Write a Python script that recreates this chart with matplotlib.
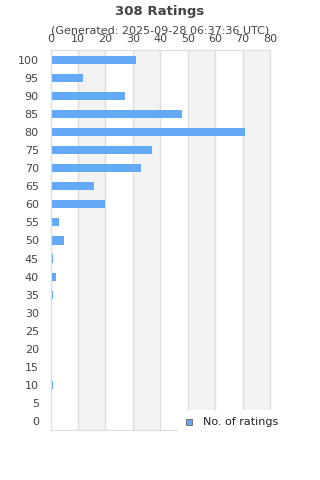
import matplotlib

matplotlib.use("Agg")
import matplotlib.pyplot as plt
from matplotlib.patches import Rectangle

ratings = [100, 95, 90, 85, 80, 75, 70, 65, 60, 55, 50, 45, 40, 35, 30, 25, 20, 15, 10, 5, 0]
counts = [31, 12, 27, 48, 71, 37, 33, 16, 20, 3, 5, 1, 2, 1, 0, 0, 0, 0, 1, 0, 0]
x_ticks = [0, 10, 20, 30, 40, 50, 60, 70, 80]

title = "308 Ratings"
subtitle = "(Generated: 2025-09-28 06:37:36 UTC)"
series_name = "No. of ratings"

bar_color = "#63a9f5"
text_color = "#444444"
grid_color = "#dddddd"

fig = plt.figure(figsize=(3.2, 4.8), dpi=100)
ax = fig.add_axes([0.158, 0.104, 0.686, 0.792])

# bandas alternadas de fundo
for i, x0 in enumerate(x_ticks[:-1]):
    if i % 2 == 1:
        ax.axvspan(x0, x_ticks[i + 1], color="#f3f3f3", zorder=0, lw=0)
for x in x_ticks:
    ax.axvline(x, color=grid_color, lw=1, zorder=1)

pos = list(range(len(ratings)))
ax.barh(pos, counts, height=0.45, color=bar_color, zorder=2)

ax.set_xlim(0, 80)
ax.set_ylim(len(ratings) - 0.5, -0.55)
ax.set_yticks(pos)
ax.set_yticklabels([str(r) for r in ratings])
ax.set_xticks(x_ticks)
ax.xaxis.tick_top()
ax.tick_params(axis="both", length=0, labelsize=8, colors=text_color)
ax.tick_params(axis="x", pad=4.5)
ax.tick_params(axis="y", pad=8.5)
for s in ax.spines.values():
    s.set_color(grid_color)

fig.text(0.5, 0.977, title, ha="center", va="center", fontsize=9.5,
         fontweight="bold", color=text_color)
fig.text(0.5, 0.937, subtitle, ha="center", va="center", fontsize=8, color=text_color)

# legenda com fundo branco
fig.patches.append(Rectangle((0.555, 0.099), 0.45, 0.046, transform=fig.transFigure,
                             facecolor="white", edgecolor="none", zorder=3))
fig.patches.append(Rectangle((0.58, 0.114), 0.02, 0.014, transform=fig.transFigure,
                             facecolor=bar_color, edgecolor="#777777", lw=0.8, zorder=4))
fig.text(0.635, 0.121, series_name, ha="left", va="center", fontsize=8,
         color="#222222", zorder=5)

fig.savefig("out.png", dpi=100)
